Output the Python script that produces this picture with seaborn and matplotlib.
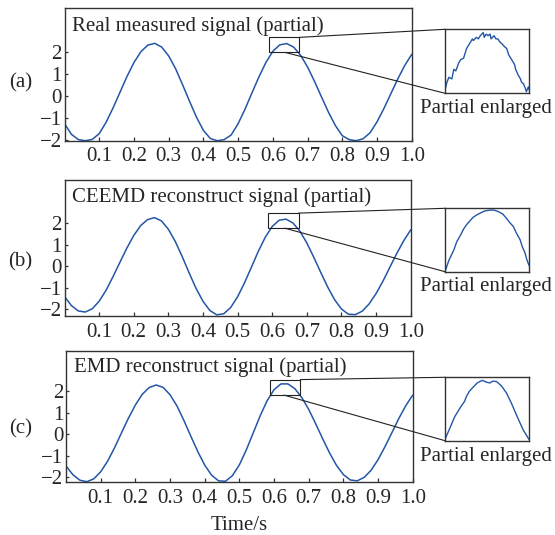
import matplotlib
matplotlib.use("Agg")
import matplotlib.pyplot as plt
import seaborn as sns
from matplotlib.patches import Rectangle, ConnectionPatch

W, H = 555, 535
BLUE = "#2356a6"
FRAME = "#333333"

# ---- data ----
time_s = [0.00, 0.02, 0.04, 0.06, 0.08, 0.10, 0.12, 0.14, 0.16, 0.18,
          0.20, 0.22, 0.24, 0.26, 0.28, 0.30, 0.32, 0.34, 0.36, 0.38,
          0.40, 0.42, 0.44, 0.46, 0.48, 0.50, 0.52, 0.54, 0.56, 0.58,
          0.60, 0.62, 0.64, 0.66, 0.68, 0.70, 0.72, 0.74, 0.76, 0.78,
          0.80, 0.82, 0.84, 0.86, 0.88, 0.90, 0.92, 0.94, 0.96, 0.98, 1.00]

sig_real = [-1.26, -1.74, -1.98, -2.03, -1.97, -1.71, -1.19, -0.54, 0.17, 0.88,
            1.51, 2.00, 2.30, 2.38, 2.21, 1.81, 1.23, 0.51, -0.24, -0.96,
            -1.56, -1.93, -2.03, -1.98, -1.77, -1.26, -0.60, 0.14, 0.86, 1.51,
            2.02, 2.31, 2.37, 2.21, 1.84, 1.31, 0.66, -0.04, -0.73, -1.34,
            -1.80, -1.98, -2.03, -1.94, -1.67, -1.18, -0.57, 0.10, 0.77, 1.38, 1.88]

sig_ceemd = [-1.41, -1.83, -2.08, -2.13, -1.98, -1.63, -1.12, -0.49, 0.18, 0.84,
             1.43, 1.89, 2.17, 2.26, 2.11, 1.72, 1.15, 0.45, -0.31, -1.03,
             -1.63, -2.06, -2.26, -2.21, -1.92, -1.42, -0.77, -0.04, 0.70, 1.35,
             1.85, 2.14, 2.19, 2.01, 1.63, 1.08, 0.42, -0.28, -0.96, -1.55,
             -1.99, -2.23, -2.25, -2.09, -1.75, -1.27, -0.69, -0.04, 0.60, 1.19, 1.69]

sig_emd = [-1.47, -1.88, -2.13, -2.20, -2.07, -1.74, -1.25, -0.63, 0.06, 0.74,
           1.35, 1.85, 2.16, 2.28, 2.17, 1.83, 1.31, 0.64, -0.09, -0.80,
           -1.43, -1.90, -2.16, -2.18, -1.92, -1.42, -0.73, 0.06, 0.85, 1.55,
           2.06, 2.33, 2.33, 2.11, 1.70, 1.15, 0.49, -0.20, -0.86, -1.44,
           -1.87, -2.12, -2.16, -2.00, -1.67, -1.18, -0.58, 0.07, 0.73, 1.32, 1.81]

# enlarged parts (peak near 0.63 s)
zoom_real_t = [0.590, 0.592, 0.594, 0.597, 0.599, 0.601, 0.604, 0.606, 0.609, 0.612,
               0.614, 0.616, 0.618, 0.619, 0.622, 0.624, 0.626, 0.629, 0.630, 0.632,
               0.634, 0.636, 0.637, 0.640, 0.642, 0.644, 0.646, 0.648, 0.651, 0.653,
               0.655, 0.656, 0.658, 0.661, 0.662, 0.665, 0.667, 0.668, 0.670, 0.672,
               0.673, 0.675, 0.676]
zoom_real_v = [2.02, 2.07, 2.10, 2.09, 2.15, 2.14, 2.19, 2.21, 2.22, 2.28,
               2.30, 2.32, 2.34, 2.33, 2.35, 2.34, 2.36, 2.38, 2.35, 2.37,
               2.36, 2.37, 2.34, 2.36, 2.34, 2.34, 2.32, 2.31, 2.29, 2.28,
               2.24, 2.23, 2.21, 2.18, 2.15, 2.11, 2.09, 2.07, 2.06, 2.03,
               2.01, 2.04, 2.02]

zoom_ceemd_t = [0.590, 0.594, 0.599, 0.602, 0.606, 0.609, 0.612, 0.616, 0.619, 0.623,
                0.627, 0.631, 0.636, 0.640, 0.644, 0.649, 0.653, 0.656, 0.660, 0.663,
                0.667, 0.669, 0.672, 0.674, 0.676]
zoom_ceemd_v = [2.000, 2.045, 2.085, 2.118, 2.145, 2.168, 2.185, 2.203, 2.215, 2.225,
                2.233, 2.240, 2.243, 2.243, 2.238, 2.228, 2.210, 2.195, 2.178, 2.153,
                2.125, 2.100, 2.073, 2.045, 2.025]

zoom_emd_t = [0.590, 0.595, 0.600, 0.606, 0.610, 0.612, 0.615, 0.618, 0.623, 0.628,
              0.630, 0.633, 0.636, 0.639, 0.643, 0.648, 0.653, 0.658, 0.663, 0.670, 0.676]
zoom_emd_v = [2.007, 2.070, 2.133, 2.186, 2.217, 2.245, 2.273, 2.291, 2.319, 2.333,
              2.329, 2.322, 2.319, 2.329, 2.326, 2.301, 2.263, 2.207, 2.144, 2.060, 2.007]

titles = ["Real measured signal (partial)",
          "CEEMD reconstruct signal (partial)",
          "EMD reconstruct signal (partial)"]
tags = ["(a)", "(b)", "(c)"]
xtick_vals = [0.1, 0.2, 0.3, 0.4, 0.5, 0.6, 0.7, 0.8, 0.9, 1.0]
xtick_text = ["0.1", "0.2", "0.3", "0.4", "0.5", "0.6", "0.7", "0.8", "0.9", "1.0"]
ytick_vals = [-2, -1, 0, 1, 2]

# zoom rectangle on the main plot: time range, value range, peak time
box_t = (0.589, 0.676)
box_v = [(1.97, 2.65), (1.77, 2.47), (1.81, 2.53)]
peak_t = [0.635, 0.636, 0.629]

# ---- layout (pixels) ----
main_px = [(64.5, 8, 411.7, 140.5), (64.5, 180, 410.7, 315.7), (66, 351.3, 412.7, 481.7)]
inset_px = [(445, 29.3, 529.3, 93.3), (445, 208.3, 529, 271.7), (445, 377.3, 529, 440.7)]
main_ylim = [(-2.02, 3.98), (-2.30, 4.01), (-2.20, 3.84)]
inset_ylim = [(2.0, 2.40), (2.0, 2.25), (2.0, 2.35)]
title_base = [30.7, 201.7, 371.7]
enlarged_base = [112.5, 291.5, 460.5]
tag_y = [83, 262, 429]


def px_box(left, top, right, bottom):
    return [left / W, 1 - bottom / H, (right - left) / W, (bottom - top) / H]


sns.set_theme(style="ticks")
plt.rcParams["font.family"] = ["Liberation Serif", "DejaVu Serif"]
plt.rcParams["axes.unicode_minus"] = True

fig = plt.figure(figsize=(W / 100, H / 100), dpi=100)

signals = [sig_real, sig_ceemd, sig_emd]
zooms = [(zoom_real_t, zoom_real_v), (zoom_ceemd_t, zoom_ceemd_v), (zoom_emd_t, zoom_emd_v)]

for i in range(3):
    ax = fig.add_axes(px_box(*main_px[i]))
    sns.lineplot(x=time_s, y=signals[i], ax=ax, color=BLUE, linewidth=1.1)
    ax.set_xlim(0, 1.0)
    ax.set_ylim(*main_ylim[i])
    ax.set_xticks(xtick_vals)
    ax.set_xticklabels(xtick_text)
    ax.set_yticks(ytick_vals)
    ax.tick_params(axis="x", direction="in", length=3.2, width=0.9, pad=5,
                   labelsize=15, color=FRAME)
    ax.tick_params(axis="y", direction="in", length=2.2, width=0.9, pad=2,
                   labelsize=15, color=FRAME)
    ax.set_xlabel("")
    ax.set_ylabel("")
    for sp in ax.spines.values():
        sp.set_visible(True)
        sp.set_linewidth(1.0)
        sp.set_color(FRAME)

    h = main_px[i][3] - main_px[i][1]
    ax.text(0.022, 1 - (title_base[i] - main_px[i][1]) / h, titles[i],
            transform=ax.transAxes, ha="left", va="baseline", fontsize=15)

    lo, hi = box_v[i]
    ax.add_patch(Rectangle((box_t[0], lo), box_t[1] - box_t[0], hi - lo,
                           fill=False, ec="#222222", lw=0.8, zorder=3))

    ins = fig.add_axes(px_box(*inset_px[i]))
    zt, zv = zooms[i]
    sns.lineplot(x=zt, y=zv, ax=ins, color=BLUE, linewidth=1.0)
    ins.set_xlim(0.59, 0.676)
    ins.set_ylim(*inset_ylim[i])
    ins.set_xticks([])
    ins.set_yticks([])
    ins.set_xlabel("")
    ins.set_ylabel("")
    for sp in ins.spines.values():
        sp.set_visible(True)
        sp.set_linewidth(1.0)
        sp.set_color(FRAME)

    for xyA, xyB in [((box_t[1], hi), (0, 1)), ((peak_t[i], lo), (0, 0))]:
        con = ConnectionPatch(xyA=xyA, coordsA=ax.transData, xyB=xyB,
                              coordsB=ins.transAxes, color="#222222", lw=0.8)
        fig.add_artist(con)

    fig.text(486 / W, 1 - enlarged_base[i] / H, "Partial enlarged",
             ha="center", va="baseline", fontsize=15)
    fig.text(20.5 / W, 1 - tag_y[i] / H, tags[i], ha="center", va="center", fontsize=15)

fig.text(239.5 / W, 0.0005, "Time/s", ha="center", va="bottom", fontsize=15)

fig.savefig("out.png", dpi=100)
